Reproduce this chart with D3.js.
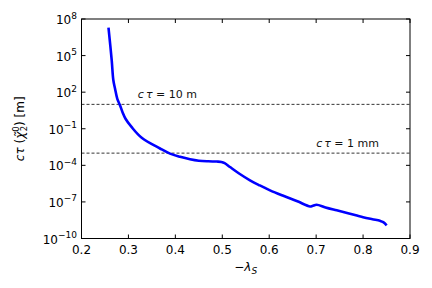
<!DOCTYPE html>
<html><head><meta charset="utf-8">
<script src="https://cdn.jsdelivr.net/npm/d3@7"></script>
<style>body{margin:0;background:#fff}svg{display:block;font-family:"DejaVu Sans",sans-serif}</style>
</head><body><svg id="c" width="432" height="288"></svg>
<script>
const lambdaS = [0.2575,0.2644,0.2678,0.2714,0.2763,0.282,0.2874,0.2938,0.307,0.3283,0.3673,0.3886,0.41,0.4312,0.45,0.47,0.488,0.498,0.505,0.5164,0.535,0.559,0.58,0.6017,0.63,0.66,0.687,0.692,0.701,0.72,0.7438,0.77,0.80,0.82,0.836,0.843,0.8503];
const log10ctau = [7.3,4.6,3.0,2.3,1.45,0.93,0.36,-0.18,-0.87,-1.74,-2.62,-3.04,-3.3,-3.50,-3.62,-3.67,-3.69,-3.72,-3.82,-4.14,-4.65,-5.23,-5.65,-6.05,-6.5,-6.95,-7.37,-7.33,-7.23,-7.45,-7.69,-7.95,-8.25,-8.42,-8.55,-8.66,-8.93];
const xTicks = [0.2,0.3,0.4,0.5,0.6,0.7,0.8,0.9];
const yTickExp = [8,5,2,-1,-4,-7,-10];
const refLines = [{v:10,label:"10 m",lx:0.32},{v:1e-3,label:"1 mm",lx:0.70}];

const svg = d3.select("#c");
const L=81.5,R=410,T=19,B=238.5;
const x = d3.scaleLinear().domain([0.2,0.9]).range([L,R]);
const y = d3.scaleLog().domain([1e-10,1e8]).range([B,T]);

refLines.forEach(r=>{
  svg.append("line").attr("x1",L).attr("x2",R).attr("y1",y(r.v)).attr("y2",y(r.v))
    .attr("stroke","#000").attr("stroke-width",0.8).attr("stroke-dasharray","3,2");
  const t = svg.append("text").attr("x",x(r.lx)).attr("y",y(r.v)-6).attr("font-size",11).attr("fill","#111");
  t.append("tspan").attr("font-style","italic").text("c");
  t.append("tspan").attr("dx",2).attr("font-style","italic").text("τ");
  t.append("tspan").text(" = "+r.label);
});

const line = d3.line().x(d=>x(d[0])).y(d=>y(Math.pow(10,d[1]))).curve(d3.curveCatmullRom.alpha(0.5));
svg.append("path").datum(lambdaS.map((v,i)=>[v,log10ctau[i]]))
  .attr("d",line).attr("fill","none").attr("stroke","#0000ff").attr("stroke-width",2.6).attr("stroke-linejoin","round");

svg.append("rect").attr("x",L).attr("y",T).attr("width",R-L).attr("height",B-T).attr("fill","none").attr("stroke","#000").attr("stroke-width",1);

const tl=4;
xTicks.forEach(v=>{
  svg.append("line").attr("x1",x(v)).attr("x2",x(v)).attr("y1",B).attr("y2",B-tl).attr("stroke","#000");
  svg.append("line").attr("x1",x(v)).attr("x2",x(v)).attr("y1",T).attr("y2",T+tl).attr("stroke","#000");
  svg.append("text").attr("x",x(v)).attr("y",B+15).attr("text-anchor","middle").attr("font-size",12).text(d3.format(".1f")(v));
});
yTickExp.forEach(e=>{
  const py=y(Math.pow(10,e));
  svg.append("line").attr("x1",L).attr("x2",L+tl).attr("y1",py).attr("y2",py).attr("stroke","#000");
  svg.append("line").attr("x1",R).attr("x2",R-tl).attr("y1",py).attr("y2",py).attr("stroke","#000");
  const t=svg.append("text").attr("x",77).attr("y",py+5).attr("text-anchor","end").attr("font-size",12);
  t.append("tspan").text("10");
  t.append("tspan").attr("dy",-5.5).attr("font-size",9).text(e<0?"−"+(-e):String(e));
});

const xl=svg.append("text").attr("x",x(0.55)).attr("y",271).attr("text-anchor","middle").attr("font-size",12);
xl.append("tspan").text("−");
xl.append("tspan").attr("font-style","italic").text("λ");
xl.append("tspan").attr("dy",3).attr("font-size",9).attr("font-style","italic").text("S");

const yl=svg.append("text").attr("transform",`translate(24,${(T+B)/2}) rotate(-90)`).attr("text-anchor","middle").attr("font-size",12);
yl.append("tspan").attr("font-style","italic").text("c");
yl.append("tspan").attr("font-style","italic").text("τ");
yl.append("tspan").text(" (");
yl.append("tspan").attr("font-style","italic").text("χ̃");
yl.append("tspan").attr("dy",-5).attr("font-size",8.5).text("0");
yl.append("tspan").attr("dy",8).attr("dx",-5).attr("font-size",8.5).text("2");
yl.append("tspan").attr("dy",-3).text(") [m]");
</script></body></html>
